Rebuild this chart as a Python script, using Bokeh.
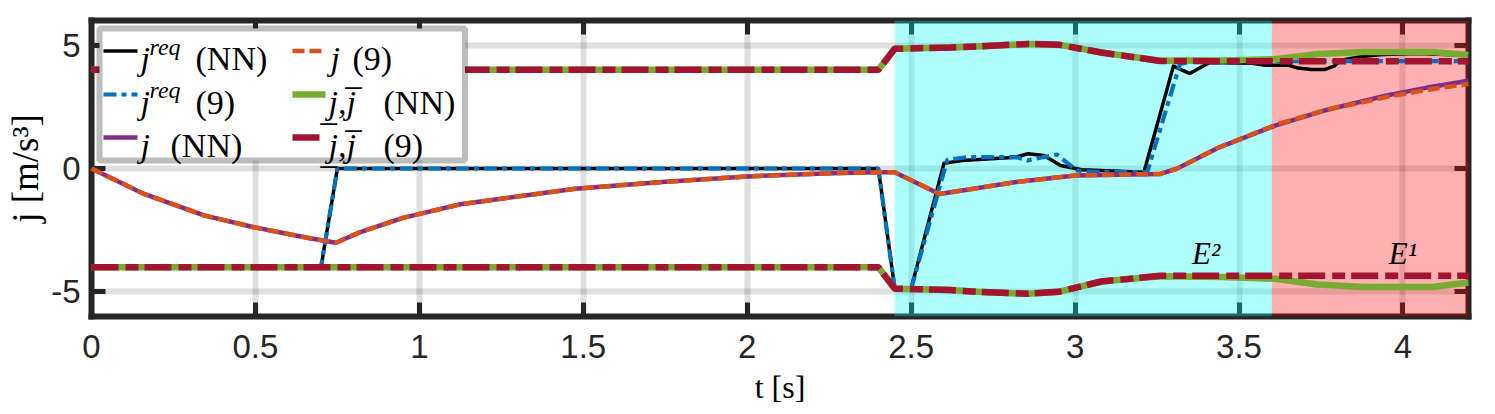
from bokeh.plotting import figure
from bokeh.models import (Range1d, FixedTicker, LinearAxis, BoxAnnotation, Label, Arrow,
                          CustomLabelingPolicy)
from bokeh.embed import file_html
from bokeh.resources import INLINE

# ---------------- data ----------------
t_req_nn = [0.00, 0.70, 0.75, 2.40, 2.45, 2.50, 2.60, 2.655, 2.82, 2.856, 2.905, 2.956, 3.02, 3.21,
            3.30, 3.35, 3.41, 3.54, 3.58, 3.65, 3.68, 3.72, 3.76, 3.79, 3.81, 3.88, 3.94, 4.05, 4.20]
j_req_nn = [-4.00, -4.00, 0.00, 0.00, -4.87, -4.87, 0.21, 0.32, 0.46, 0.60, 0.53, 0.12, -0.05, -0.15,
            4.15, 3.85, 4.30, 4.27, 4.19, 4.19, 4.07, 4.01, 4.01, 4.15, 4.39, 4.55, 4.62, 4.66, 4.58]

t_req_9 = [0.00, 0.70, 0.75, 2.40, 2.45, 2.50, 2.61, 2.67, 2.82, 2.855, 2.944, 3.005, 3.07, 3.22,
           3.32, 3.36, 4.20]
j_req_9 = [-4.00, -4.00, 0.00, 0.00, -4.87, -4.87, 0.35, 0.46, 0.46, 0.33, 0.57, -0.08, -0.15, -0.15,
           4.24, 4.35, 4.35]

t_jerk = [0.00, 0.16, 0.343, 0.495, 0.658, 0.745, 0.82, 0.95, 1.125, 1.476, 1.74, 2.00, 2.26, 2.405,
          2.45, 2.586, 2.69, 2.82, 3.00, 3.26, 3.31, 3.44, 3.61, 3.76, 3.95, 4.07, 4.20]
j_nn = [0.00, -1.03, -1.90, -2.38, -2.81, -3.01, -2.58, -2.00, -1.45, -0.82, -0.55, -0.32, -0.19, -0.15,
        -0.15, -1.03, -0.82, -0.55, -0.28, -0.22, -0.01, 0.86, 1.74, 2.35, 2.96, 3.27, 3.56]
j_9 = [0.00, -1.03, -1.90, -2.38, -2.81, -3.01, -2.58, -2.00, -1.45, -0.82, -0.55, -0.32, -0.19, -0.15,
       -0.15, -1.03, -0.82, -0.55, -0.28, -0.22, -0.01, 0.86, 1.76, 2.36, 2.90, 3.18, 3.43]

t_bound = [0.00, 2.40, 2.45, 2.62, 2.70, 2.856, 2.95, 3.08, 3.26, 3.45, 3.61, 3.74, 3.88, 4.09, 4.20]
upper_9 = [4.00, 4.00, 4.85, 4.91, 4.95, 5.05, 5.02, 4.70, 4.36, 4.35, 4.35, 4.35, 4.35, 4.35, 4.35]
lower_9 = [-4.00, -4.00, -4.87, -4.93, -5.00, -5.08, -5.00, -4.58, -4.35, -4.35, -4.35, -4.35, -4.35, -4.35, -4.35]
upper_nn = [4.00, 4.00, 4.85, 4.91, 4.95, 5.05, 5.02, 4.70, 4.37, 4.38, 4.43, 4.64, 4.72, 4.72, 4.60]
lower_nn = [-4.00, -4.00, -4.87, -4.93, -5.00, -5.08, -5.00, -4.58, -4.37, -4.40, -4.47, -4.70, -4.80, -4.80, -4.62]

region_edges = [2.45, 3.60, 4.20]
region_names = ["E²", "E¹"]

x_ticks = [0, 0.5, 1, 1.5, 2, 2.5, 3, 3.5, 4]
x_tick_labels = ["0", "0.5", "1", "1.5", "2", "2.5", "3", "3.5", "4"]
y_ticks = [-5, 0, 5]
y_tick_labels = ["-5", "0", "5"]

# ---------------- styles ----------------
AX = "#262626"
BLACK = "#000000"
BLUE = "#0072BD"
ORANGE = "#D95319"
PURPLE = "#7E2F8E"
GREEN = "#77AC30"
DRED = "#A2142F"
SERIF = "Liberation Serif"
SANS = "Liberation Sans"

p = figure(frame_width=1377, frame_height=296,
           x_range=Range1d(0, 4.2), y_range=Range1d(-6, 6),
           output_backend="svg", toolbar_location=None,
           min_border_left=91, min_border_right=26, min_border_top=20, min_border_bottom=97,
           background_fill_color="white", border_fill_color="white")
p.outline_line_color = None

xb = p.below[0]
yl = p.left[0]
xt = LinearAxis()
yr = LinearAxis()
p.add_layout(xt, "above")
p.add_layout(yr, "right")


def style_axis(ax, ticks, labels, show):
    ax.ticker = FixedTicker(ticks=ticks)
    ax.minor_tick_line_color = None
    ax.major_tick_in = 14
    ax.major_tick_out = 0
    ax.major_tick_line_width = 5
    ax.major_tick_line_color = AX
    ax.axis_line_width = 6
    ax.axis_line_color = AX
    ax.axis_line_cap = "square"
    if show:
        ax.major_label_overrides = {tk: lb for tk, lb in zip(ticks, labels)}
        ax.major_label_text_font = SANS
        ax.major_label_text_font_size = "33px"
        ax.major_label_text_color = AX
    else:
        # mirrored frame axis: ticks only, no labels drawn
        ax.major_label_policy = CustomLabelingPolicy(code="return []")
        ax.major_label_text_font_size = "0px"
        ax.major_label_standoff = 0


style_axis(xb, x_ticks, x_tick_labels, True)
style_axis(xt, x_ticks, x_tick_labels, False)
style_axis(yl, y_ticks, y_tick_labels, True)
style_axis(yr, y_ticks, y_tick_labels, False)
xb.major_label_standoff = 18
yl.major_label_standoff = 11

xb.axis_label = "t [s]"
xb.axis_label_text_font = SERIF
xb.axis_label_text_font_size = "32px"
xb.axis_label_text_font_style = "normal"
xb.axis_label_text_color = BLACK
xb.axis_label_standoff = 8

yl.axis_label = "j [m/s³]"
yl.axis_label_text_font = SERIF
yl.axis_label_text_font_size = "37px"
yl.axis_label_text_font_style = "normal"
yl.axis_label_text_color = BLACK
yl.axis_label_standoff = 2

for g, tk in ((p.xgrid[0], x_ticks), (p.ygrid[0], y_ticks)):
    g.ticker = FixedTicker(ticks=tk)
    g.grid_line_color = AX
    g.grid_line_alpha = 0.15
    g.grid_line_width = 6

# shaded regions (above the axes, below the lines)
p.add_layout(BoxAnnotation(left=region_edges[0], right=region_edges[1], fill_color="#00FFFF",
                           fill_alpha=0.31, line_alpha=0, level="annotation"))
p.add_layout(BoxAnnotation(left=region_edges[1], right=region_edges[2], fill_color="#FF0000",
                           fill_alpha=0.31, line_alpha=0, level="annotation"))

# ---------------- lines ----------------
W_BLACK, W_BLUE, W_J, W_B = 3.5, 4.2, 4.5, 6.5
D_BLUE = "13 5 5 5"
D_ORANGE = "12 5"
D_RED = "27 7 13 6"

p.line(t_req_nn, j_req_nn, line_color=BLACK, line_width=W_BLACK, line_join="round", level="overlay")
p.line(t_req_9, j_req_9, line_color=BLUE, line_width=W_BLUE, line_dash=D_BLUE, level="overlay")
p.line(t_jerk, j_nn, line_color=PURPLE, line_width=W_J, line_join="round", level="overlay")
p.line(t_jerk, j_9, line_color=ORANGE, line_width=W_J, line_dash=D_ORANGE, level="overlay")
p.line(t_bound, upper_nn, line_color=GREEN, line_width=W_B, line_join="round", level="overlay")
p.line(t_bound, lower_nn, line_color=GREEN, line_width=W_B, line_join="round", level="overlay")
p.line(t_bound, upper_9, line_color=DRED, line_width=W_B, line_dash=D_RED, level="overlay")
p.line(t_bound, lower_9, line_color=DRED, line_width=W_B, line_dash=D_RED, level="overlay")

# region labels
p.add_layout(Label(x=3.40, y=-3.45, text=region_names[0], text_font=SERIF, text_font_size="31px",
                   text_font_style="italic", text_align="center", text_baseline="middle",
                   text_color=BLACK, level="overlay"))
p.add_layout(Label(x=4.00, y=-3.45, text=region_names[1], text_font=SERIF, text_font_size="31px",
                   text_font_style="italic", text_align="center", text_baseline="middle",
                   text_color=BLACK, level="overlay"))

# ---------------- legend (frame pixel units, y up from frame bottom) ----------------
p.add_layout(BoxAnnotation(left=8, right=373.5, top=288, bottom=156,
                           left_units="screen", right_units="screen",
                           top_units="screen", bottom_units="screen",
                           fill_color="white", fill_alpha=1.0,
                           line_color=AX, line_width=6, level="overlay"))

row_y = [265.5, 222.0, 179.0]
col_x = [(12, 46), (201, 234)]
FS = "34px"
FS_SUP = "24px"


def sample(col, row, color, width, dash):
    x0, x1 = col_x[col]
    y = row_y[row]
    p.add_layout(Arrow(x_start=x0, y_start=y, x_end=x1, y_end=y,
                       start_units="screen", end_units="screen", start=None, end=None,
                       line_color=color, line_width=width, line_dash=dash, level="overlay"))


def txt(x, y, s, size=FS, style="normal"):
    p.add_layout(Label(x=x, y=y, x_units="screen", y_units="screen", text=s,
                       text_font=SERIF, text_font_size=size, text_font_style=style,
                       text_align="left", text_baseline="alphabetic",
                       text_color=BLACK, level="overlay"))


base = [y - 7.5 for y in row_y]
# column 1
sample(0, 0, BLACK, W_BLACK, "solid")
txt(49, base[0], "j", style="italic")
txt(58, base[0] + 12, "req", size=FS_SUP, style="italic")
txt(104, base[0], "(NN)")
sample(0, 1, BLUE, W_BLUE, D_BLUE)
txt(49, base[1], "j", style="italic")
txt(58, base[1] + 12, "req", size=FS_SUP, style="italic")
txt(104, base[1], "(9)")
sample(0, 2, PURPLE, W_J, "solid")
txt(49, base[2], "j", style="italic")
txt(79, base[2], "(NN)")
# column 2
sample(1, 0, ORANGE, W_J, D_ORANGE)
txt(239, base[0], "j", style="italic")
txt(261, base[0], "(9)")
sample(1, 1, GREEN, W_B, "solid")
txt(237, base[1], "j\u0332,j\u0305", style="italic")
txt(292, base[1], "(NN)")
sample(1, 2, DRED, W_B, D_RED)
txt(237, base[2], "j\u0332,j\u0305", style="italic")
txt(292, base[2], "(9)")

open("out.html", "w").write(file_html(p, INLINE))
